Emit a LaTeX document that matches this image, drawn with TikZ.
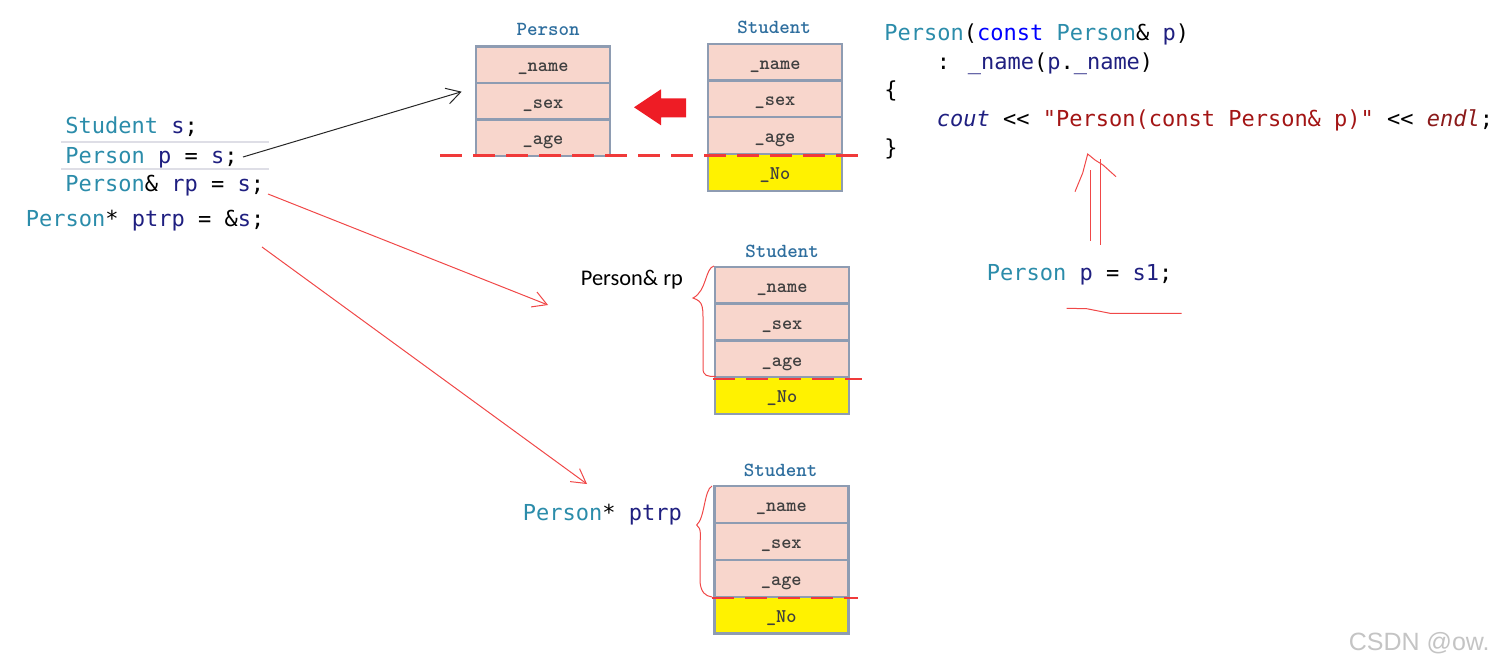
\documentclass[tikz,border=0pt]{standalone}
\usepackage{fontspec}
\usetikzlibrary{arrows.meta}
\newfontfamily\codefont{DejaVu Sans Mono}
\newfontfamily\calfont{Carlito}
\newfontfamily\wmfont{Liberation Sans}
\definecolor{ctype}{HTML}{2B8CAA}
\definecolor{cvar}{HTML}{1F1F80}
\definecolor{ckey}{HTML}{0000FF}
\definecolor{cstr}{HTML}{A31515}
\definecolor{cendl}{HTML}{8B1A1A}
\definecolor{cellpink}{HTML}{F8D6CC}
\definecolor{cellborder}{HTML}{8E9CB2}
\definecolor{celltext}{HTML}{404040}
\definecolor{ctitle}{HTML}{2E6E9E}
\definecolor{dashred}{HTML}{F03A3A}
\definecolor{penred}{HTML}{F04848}
\definecolor{bigred}{HTML}{EE1C25}
\definecolor{hlgray}{HTML}{DEDEE6}
\definecolor{wmgray}{HTML}{C4C4C4}
\newcommand\ty[1]{\textcolor{ctype}{#1}}
\newcommand\va[1]{\textcolor{cvar}{#1}}
\begin{document}
\begin{tikzpicture}[x=0.5pt,y=-0.5pt,
  code/.style={font=\codefont\fontsize{11pt}{13pt}\selectfont, anchor=base west, inner sep=0pt},
  cell/.style={draw=cellborder, line width=1.2pt, fill=cellpink, minimum width=67pt,
    minimum height=18.3pt, inner sep=0pt, font=\ttfamily\bfseries\fontsize{9.7pt}{11pt}\selectfont,
    text=celltext, text height=7.5pt, text depth=0.5pt},
  nocell/.style={cell, fill=yellow},
  boxtitle/.style={font=\ttfamily\bfseries\fontsize{10pt}{12pt}\selectfont, text=ctitle, inner sep=0pt},
  cut/.style={draw=dashred, line width=1.3pt, dash pattern=on 11pt off 5.5pt},
  pen/.style={draw=penred, line width=0.5pt},
  arr/.style={-{Straight Barb[length=7pt,width=8pt]}, line width=0.5pt},
  hl/.style={draw=hlgray, line width=1pt}
]
\useasboundingbox (0,0) rectangle (1496,669);

% ---- left code ----
\draw[hl] (61,141.7) -- (269,141.7);
\draw[hl] (61,169) -- (269,169);
\node[code] (ls) at (65,133) {\ty{Student} \va{s};};
\node[code] (lp) at (65,163) {\ty{Person} \va{p} = \va{s};};
\node[code] (lrp) at (65,191) {\ty{Person}\& \va{rp} = \va{s};};
\node[code] (lptr) at (25.5,226) {\ty{Person}* \va{ptrp} = \&\va{s};};

% ---- Person box ----
\node[boxtitle] (ptitle) at (548,29.5) {Person};
\node[cell] (pn) at (543,64.8) {\_name};
\node[cell] (ps) at (543,101) {\_sex};
\node[cell] (pa) at (543,137.6) {\_age};

% ---- top Student box ----
\node[boxtitle] (s1title) at (774,27) {Student};
\node[cell] (s1n) at (775,62) {\_name};
\node[cell] (s1s) at (775,98.9) {\_sex};
\node[cell] (s1a) at (775,135.5) {\_age};
\node[nocell] (s1no) at (775,172.4) {\_No};
\coordinate (cutA1) at (440,155.5);
\coordinate (cutA2) at (860,155.5);
\draw[cut] (cutA1) -- (cutA2);

% big red arrow
\fill[bigred] (686,98.3) -- (661,98.3) -- (661,89.3) -- (634,107.3) -- (661,125.3)
  -- (661,117.3) -- (686,117.3) -- cycle;

% ---- middle Student box ----
\node[boxtitle] (s2title) at (782,251) {Student};
\node[cell] (s2n) at (782,285.3) {\_name};
\node[cell] (s2s) at (782,322.3) {\_sex};
\node[cell] (s2a) at (782,359) {\_age};
\node[nocell] (s2no) at (782,395.5) {\_No};
\coordinate (cutB1) at (713,379);
\coordinate (cutB2) at (862,379);
\draw[cut] (cutB1) -- (cutB2);
\node[font=\calfont\fontsize{11.2pt}{13pt}\selectfont, anchor=base west, inner sep=0pt] (rplabel) at (580.5,285) {Person\& rp};
\draw[pen] (714,266) .. controls (705,268) and (707,291) .. (693,298)
  .. controls (704,302) and (703,306) .. (703,330) -- (703,368)
  .. controls (703,376) and (707,376.5) .. (716,376.5);

% ---- bottom Student box ----
\node[boxtitle] (s3title) at (780.7,470.5) {Student};
\node[cell] (s3n) at (781.3,504.5) {\_name};
\node[cell] (s3s) at (781.3,541.5) {\_sex};
\node[cell] (s3a) at (781.3,578.5) {\_age};
\node[nocell] (s3no) at (781.3,615) {\_No};
\coordinate (cutC1) at (712,598);
\coordinate (cutC2) at (858,598);
\draw[cut] (cutC1) -- (cutC2);
\node[code] (ptrlabel) at (522.5,520) {\ty{Person}* \va{ptrp}};
\draw[pen] (712,486) .. controls (704,490) and (705,518) .. (696.7,525)
  .. controls (702,529) and (700,535) .. (700,550) -- (700,582)
  .. controls (701,592) and (705,596) .. (712,597);

% ---- connectors ----
\coordinate (a1s) at (243,157);
\coordinate (a1e) at (461.7,91.7);
\draw[arr, draw=black!85] (a1s) -- (a1e);
\coordinate (a2s) at (268,194);
\coordinate (a2e) at (548,305);
\draw[arr, pen] (a2s) -- (a2e);
\coordinate (a3s) at (262,247);
\coordinate (a3e) at (587,484);
\draw[arr, pen] (a3s) -- (a3e);

% ---- right code ----
\node[code] (r1) at (884,40.7) {\ty{Person}(\textcolor{ckey}{const} \ty{Person}\& \va{p})};
\node[code] (r2) at (936.5,69.3) {: \va{\_name}(\va{p}.\va{\_name})};
\node[code] (r3) at (884,97.9) {\{};
\node[code] (r4) at (936.5,126.5) {\va{\itshape cout} << \textcolor{cstr}{"Person(const Person\& p)"} << \textcolor{cendl}{\itshape endl};};
\node[code] (r5) at (884,155) {\}};

% hand-drawn double arrow
\draw[pen] (1090,170) -- (1090,241);
\draw[pen] (1100.7,159) -- (1100.7,245);
\draw[pen] (1075,191.7) -- (1082.7,173) -- (1087.7,154) -- (1095,160) -- (1103,165) -- (1116,176.7);

\node[code] (s1line) at (986.5,280.7) {\ty{Person} \va{p} = \va{s1};};
\draw[pen] (1066.7,308.3) -- (1086.7,308.7) -- (1110,313.3) -- (1181.7,313.3);

% watermark
\node[font=\wmfont\fontsize{12.5pt}{14pt}\selectfont, text=wmgray, anchor=east, inner sep=0pt] (wm) at (1490,643) {CSDN @ow.};
\end{tikzpicture}
\end{document}
